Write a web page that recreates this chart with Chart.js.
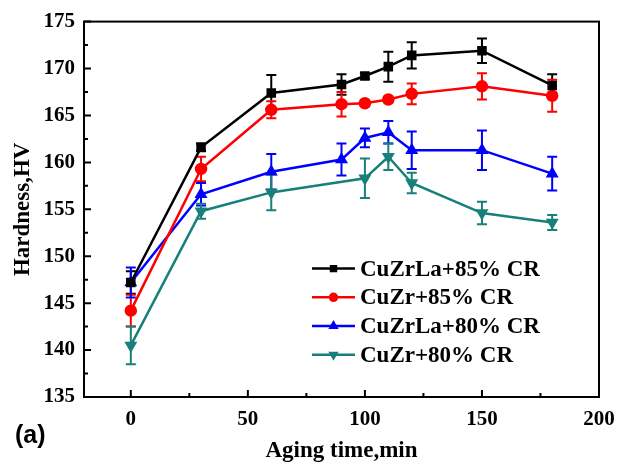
<!DOCTYPE html>
<html>
<head>
<meta charset="utf-8">
<script src="https://cdn.jsdelivr.net/npm/chart.js@4.4.0/dist/chart.umd.min.js"></script>
<style>
  html, body { margin: 0; padding: 0; background: #fff; }
  #wrap { width: 625px; height: 466px; }
</style>
</head>
<body>
<div id="wrap"><canvas id="hvChart" width="625" height="466"></canvas></div>
<script>
// aging times (min)
const agingTimes = [0, 30, 60, 90, 100, 110, 120, 150, 180];
const agingTimesCuZr80 = [0, 30, 60, 100, 110, 120, 150, 180];

// hardness (HV) and error bars
const hvCuZrLa85 = [147.2, 161.6, 167.4, 168.3, 169.2, 170.2, 171.4, 171.9, 168.2];
const errCuZrLa85 = [1.2, 0.4, 1.9, 1.1, 0.3, 1.6, 1.4, 1.3, 1.2];
const hvCuZr85 = [144.2, 159.3, 165.6, 166.2, 166.3, 166.7, 167.3, 168.1, 167.1];
const errCuZr85 = [1.7, 1.3, 0.9, 1.3, 0.3, 0.3, 1.1, 1.4, 1.7];
const hvCuZrLa80 = [147.2, 156.6, 159.0, 160.3, 162.6, 163.2, 161.3, 161.3, 158.8];
const errCuZrLa80 = [1.6, 1.2, 1.9, 1.7, 1.0, 1.2, 2.0, 2.1, 1.8];
const hvCuZr80 = [140.5, 154.8, 156.8, 158.3, 160.6, 157.8, 154.6, 153.6];
const errCuZr80 = [2.0, 0.8, 1.9, 2.1, 1.4, 1.1, 1.2, 0.8];

// axis ticks
const xTickValues = [0, 50, 100, 150, 200];
const yTickValues = [135, 140, 145, 150, 155, 160, 165, 170, 175];

const serif = "'Liberation Serif', 'Times New Roman', serif";

function toPoints(xs, ys) {
  return xs.map((x, i) => ({ x: x, y: ys[i] }));
}

// error bars drawn under the markers
const errorBarPlugin = {
  id: "errorBars",
  beforeDatasetsDraw(chart) {
    const ctx = chart.ctx;
    const yScale = chart.scales.y;
    chart.data.datasets.forEach((ds, i) => {
      const meta = chart.getDatasetMeta(i);
      ctx.save();
      ctx.strokeStyle = ds.borderColor;
      ctx.lineWidth = 2;
      meta.data.forEach((pt, j) => {
        const v = ds.data[j].y;
        const e = ds.errors[j];
        const top = yScale.getPixelForValue(v + e);
        const bot = yScale.getPixelForValue(v - e);
        ctx.beginPath();
        ctx.moveTo(pt.x, top);
        ctx.lineTo(pt.x, bot);
        ctx.moveTo(pt.x - 5, top);
        ctx.lineTo(pt.x + 5, top);
        ctx.moveTo(pt.x - 5, bot);
        ctx.lineTo(pt.x + 5, bot);
        ctx.stroke();
      });
      ctx.restore();
    });
  }
};

// frame, inward ticks, legend and panel label
const framePlugin = {
  id: "frame",
  afterDraw(chart) {
    const ctx = chart.ctx;
    const a = chart.chartArea;
    const xs = chart.scales.x;
    const ys = chart.scales.y;
    ctx.save();
    ctx.strokeStyle = "#000";
    ctx.lineWidth = 2;
    ctx.strokeRect(a.left, a.top, a.right - a.left, a.bottom - a.top);

    ctx.beginPath();
    xTickValues.forEach((v, i) => {
      const px = xs.getPixelForValue(v);
      ctx.moveTo(px, a.bottom);
      ctx.lineTo(px, a.bottom - 7);
      if (i < xTickValues.length - 1) {
        const mx = xs.getPixelForValue((v + xTickValues[i + 1]) / 2);
        ctx.moveTo(mx, a.bottom);
        ctx.lineTo(mx, a.bottom - 4);
      }
    });
    yTickValues.forEach((v, i) => {
      const py = ys.getPixelForValue(v);
      ctx.moveTo(a.left, py);
      ctx.lineTo(a.left + 7, py);
      if (i < yTickValues.length - 1) {
        const my = ys.getPixelForValue((v + yTickValues[i + 1]) / 2);
        ctx.moveTo(a.left, my);
        ctx.lineTo(a.left + 4, my);
      }
    });
    ctx.stroke();

    // legend inside the plot
    const lx = a.left + 228;
    let ly = a.top + 247;
    chart.data.datasets.forEach((ds) => {
      ctx.strokeStyle = ds.borderColor;
      ctx.fillStyle = ds.borderColor;
      ctx.lineWidth = 2.5;
      ctx.beginPath();
      ctx.moveTo(lx, ly);
      ctx.lineTo(lx + 43, ly);
      ctx.stroke();
      Chart.helpers.drawPoint(ctx, {
        pointStyle: ds.pointStyle,
        rotation: ds.pointRotation || 0,
        radius: 3.5,
        borderWidth: 1
      }, lx + 21.5, ly);
      ctx.fillStyle = "#000";
      ctx.font = "bold 23px " + serif;
      ctx.textBaseline = "middle";
      ctx.textAlign = "left";
      ctx.fillText(ds.label, lx + 48, ly + 1);
      ly += 28.7;
    });

    ctx.fillStyle = "#000";
    ctx.font = "bold 25px 'Liberation Sans', Arial, sans-serif";
    ctx.textBaseline = "middle";
    ctx.fillText("(a)", 15, 436);
    ctx.restore();
  }
};

function makeDataset(label, xs, ys, errs, color, style, rotation) {
  return {
    label: label,
    data: toPoints(xs, ys),
    errors: errs,
    borderColor: color,
    backgroundColor: color,
    pointBackgroundColor: color,
    pointBorderColor: color,
    pointStyle: style,
    pointRotation: rotation,
    pointRadius: 5,
    pointHoverRadius: 5,
    borderWidth: 2.5,
    showLine: true,
    tension: 0
  };
}

const ctx = document.getElementById("hvChart").getContext("2d");
new Chart(ctx, {
  type: "scatter",
  data: {
    datasets: [
      makeDataset("CuZrLa+85% CR", agingTimes, hvCuZrLa85, errCuZrLa85, "#000000", "rect", 0),
      makeDataset("CuZr+85% CR", agingTimes, hvCuZr85, errCuZr85, "#ff0000", "circle", 0),
      makeDataset("CuZrLa+80% CR", agingTimes, hvCuZrLa80, errCuZrLa80, "#0000ff", "triangle", 0),
      makeDataset("CuZr+80% CR", agingTimesCuZr80, hvCuZr80, errCuZr80, "#17807a", "triangle", 180)
    ]
  },
  options: {
    responsive: false,
    animation: false,
    layout: { padding: { top: 17, right: 26, left: 0, bottom: 0 } },
    plugins: {
      legend: { display: false },
      tooltip: { enabled: false }
    },
    scales: {
      x: {
        type: "linear",
        min: -20,
        max: 200,
        afterBuildTicks: (axis) => { axis.ticks = xTickValues.map(v => ({ value: v })); },
        afterFit: (axis) => { axis.height = 69; },
        grid: { display: false, drawTicks: false },
        border: { display: false },
        ticks: { color: "#000", padding: 10, font: { family: serif, size: 21, weight: "bold" } },
        title: {
          display: true,
          text: "Aging time,min",
          color: "#000",
          padding: { top: 0, bottom: 1 },
          font: { family: serif, size: 23, weight: "bold" }
        }
      },
      y: {
        type: "linear",
        min: 135,
        max: 175,
        afterBuildTicks: (axis) => { axis.ticks = yTickValues.map(v => ({ value: v })); },
        afterFit: (axis) => { axis.width = 84; },
        grid: { display: false, drawTicks: false },
        border: { display: false },
        ticks: { color: "#000", padding: 9, font: { family: serif, size: 21, weight: "bold" } },
        title: {
          display: true,
          text: "Hardness,HV",
          color: "#000",
          padding: { top: 9, bottom: 0 },
          font: { family: serif, size: 23, weight: "bold" }
        }
      }
    }
  },
  plugins: [errorBarPlugin, framePlugin]
});
</script>
</body>
</html>
